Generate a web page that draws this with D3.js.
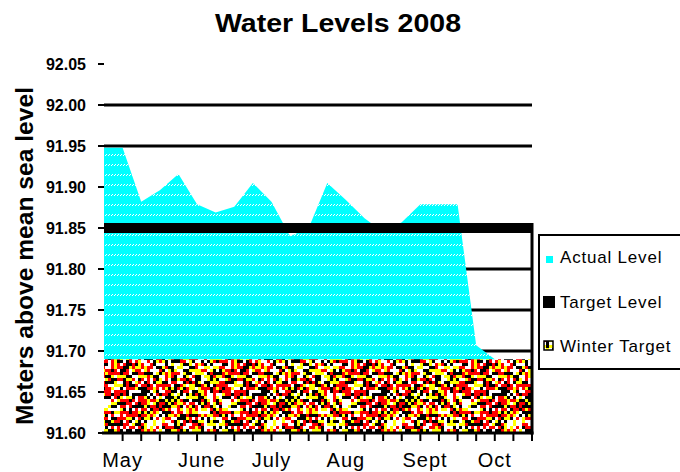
<!DOCTYPE html>
<html><head><meta charset="utf-8">
<script src="https://cdn.jsdelivr.net/npm/d3@7/dist/d3.min.js"></script>
<style>body{margin:0;background:#fff}svg{display:block}</style>
</head><body>
<svg id="c" width="680" height="472"></svg>
<script>
// ---- data ----
const actualLevel = [91.948, 91.948, 91.882, 91.896, 91.916, 91.879, 91.869, 91.876, 91.905, 91.882, 91.840, 91.850,
                     91.905, 91.884, 91.862, 91.845, 91.857, 91.879, 91.879, 91.879, 91.707, 91.690];
const targetLevel = [91.85, 91.85, 91.85, 91.85, 91.85, 91.85, 91.85, 91.85, 91.85, 91.85, 91.85, 91.85,
                     91.85, 91.85, 91.85, 91.85, 91.85, 91.85, 91.85, 91.85, 91.85, 91.85, 91.85, 91.85];
const winterTarget = [91.69, 91.69, 91.69, 91.69, 91.69, 91.69, 91.69, 91.69, 91.69, 91.69, 91.69, 91.69,
                      91.69, 91.69, 91.69, 91.69, 91.69, 91.69, 91.69, 91.69, 91.69, 91.69, 91.69, 91.69];
const monthLabels = ["May", "June", "July", "Aug", "Sept", "Oct"];
const monthWeeks = [1, 5.25, 9, 13, 17.25, 21];
const yTicks = [91.60, 91.65, 91.70, 91.75, 91.80, 91.85, 91.90, 91.95, 92.00, 92.05];
const gridValues = [92.00, 91.95, 91.80, 91.75, 91.70];
const seriesNames = ["Actual Level", "Target Level", "Winter Target"];

// ---- chart ----
const svg = d3.select("#c");
const nWeeks = targetLevel.length - 1;
const x = d3.scaleLinear().domain([0, nWeeks]).range([104, 532]);
const y = d3.scaleLinear().domain([91.60, 92.05]).range([433, 64]);
const font = "Liberation Sans, Arial, sans-serif";

const defs = svg.append("defs");
// cyan textured fill
const cp = defs.append("pattern").attr("id", "cyanPat").attr("patternUnits", "userSpaceOnUse")
  .attr("width", 6).attr("height", 10);
cp.append("rect").attr("width", 6).attr("height", 10).attr("fill", "#00FFFF");
[[0,5],[1,4],[3,5],[4,4]].forEach(p => cp.append("rect").attr("x", p[0]).attr("y", p[1])
  .attr("width", 1).attr("height", 1).attr("fill", "#fff"));
// speckled winter fill (deterministic texture)
function hash(i, j) {
  let h = Math.imul(i, 374761393) + Math.imul(j, 668265263) | 0;
  h = Math.imul(h ^ (h >>> 13), 1274126177);
  h = h ^ (h >>> 16);
  return (h >>> 0) / 4294967296;
}
const cell = 3, nCells = 40;
const wp = defs.append("pattern").attr("id", "winterPat").attr("patternUnits", "userSpaceOnUse")
  .attr("width", cell * nCells).attr("height", cell * nCells);
for (let i = 0; i < nCells; i++) for (let j = 0; j < nCells; j++) {
  const h = hash(i + 7, j + 13);
  const col = h < 0.27 ? "#000" : h < 0.55 ? "#FF0000" : h < 0.76 ? "#FFFF00" : "#fff";
  wp.append("rect").attr("x", i * cell).attr("y", j * cell).attr("width", cell).attr("height", cell).attr("fill", col);
}

// gridlines
svg.append("g").selectAll("line").data(gridValues).join("line")
  .attr("x1", x(0)).attr("x2", x(nWeeks)).attr("y1", d => y(d)).attr("y2", d => y(d))
  .attr("stroke", "#000").attr("stroke-width", 3);

// actual level area
svg.append("path").datum(actualLevel)
  .attr("d", d3.area().x((d, i) => x(i)).y0(y(91.60)).y1(d => y(d)))
  .attr("fill", "url(#cyanPat)");

// target level
svg.append("path").datum(targetLevel)
  .attr("d", d3.line().x((d, i) => x(i)).y(d => y(d)))
  .attr("fill", "none").attr("stroke", "#000").attr("stroke-width", 10);

// winter target area
svg.append("path").datum(winterTarget)
  .attr("d", d3.area().x((d, i) => x(i)).y0(y(91.60)).y1(d => y(d)))
  .attr("fill", "url(#winterPat)");

// right border below target
svg.append("line").attr("x1", x(nWeeks)).attr("x2", x(nWeeks))
  .attr("y1", y(91.85) - 5).attr("y2", y(91.60) + 1.5).attr("stroke", "#000").attr("stroke-width", 3);

// x axis
svg.append("line").attr("x1", x(0) - 2).attr("x2", x(nWeeks) + 1.5)
  .attr("y1", y(91.60)).attr("y2", y(91.60)).attr("stroke", "#000").attr("stroke-width", 3);
svg.append("g").selectAll("line").data(d3.range(1, nWeeks + 1)).join("line")
  .attr("x1", d => x(d)).attr("x2", d => x(d)).attr("y1", y(91.60)).attr("y2", y(91.60) + 8)
  .attr("stroke", "#000").attr("stroke-width", 2);
svg.append("g").selectAll("text").data(monthLabels).join("text")
  .attr("x", (d, i) => x(monthWeeks[i])).attr("y", 467).attr("text-anchor", "middle")
  .attr("font-family", font).attr("font-size", 20)
  .attr("letter-spacing", 1).text(d => d);

// y axis ticks and labels
svg.append("g").selectAll("line").data(yTicks).join("line")
  .attr("x1", 98).attr("x2", 104).attr("y1", d => y(d)).attr("y2", d => y(d))
  .attr("stroke", "#000").attr("stroke-width", 2);
svg.append("g").selectAll("text").data(yTicks).join("text")
  .attr("x", 86).attr("y", d => y(d)).attr("dy", "0.36em").attr("text-anchor", "end")
  .attr("font-family", font).attr("font-size", 16).attr("font-weight", "bold")
  .text(d => d3.format(".2f")(d));

// title
svg.append("text").attr("x", 338).attr("y", 32).attr("text-anchor", "middle")
  .attr("font-family", font).attr("font-size", 25).attr("font-weight", "bold")
  .attr("textLength", 246).attr("lengthAdjust", "spacingAndGlyphs")
  .text("Water Levels 2008");

// y axis title
svg.append("text").attr("transform", "translate(33,256) rotate(-90)").attr("text-anchor", "middle")
  .attr("font-family", font).attr("font-size", 23).attr("font-weight", "bold")
  .attr("textLength", 338).attr("lengthAdjust", "spacingAndGlyphs")
  .text("Meters above mean sea level");

// legend
const lg = svg.append("g");
lg.append("rect").attr("x", 539).attr("y", 235).attr("width", 160).attr("height", 134)
  .attr("fill", "#fff").attr("stroke", "#000").attr("stroke-width", 2);
const swatches = [
  {fill: "url(#cyanPat)", x: 546, y: 256, s: 7, stroke: "none"},
  {fill: "#000", x: 543, y: 296, s: 12, stroke: "none"},
  {fill: "url(#winterPat)", x: 544, y: 341, s: 9, stroke: "#000"}
];
const textY = [263, 308, 352];
seriesNames.forEach((name, i) => {
  const sw = swatches[i];
  lg.append("rect").attr("x", sw.x).attr("y", sw.y).attr("width", sw.s).attr("height", sw.s)
    .attr("fill", sw.fill).attr("stroke", sw.stroke).attr("stroke-width", 1.5);
  lg.append("text").attr("x", 560).attr("y", textY[i])
    .attr("font-family", font).attr("font-size", 17).attr("letter-spacing", 0.8)
    .text(name);
});
</script>
</body></html>
